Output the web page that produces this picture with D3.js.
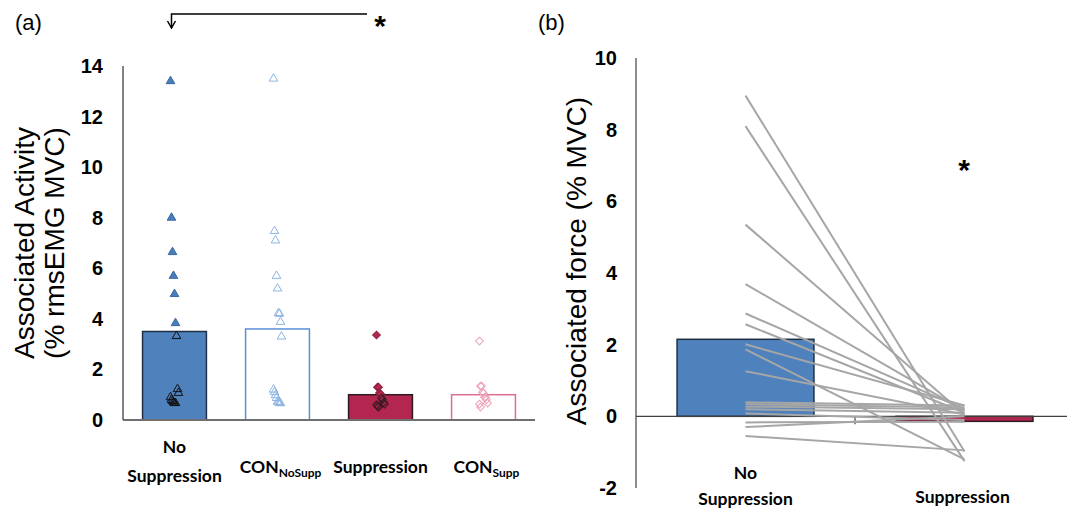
<!DOCTYPE html>
<html>
<head>
<meta charset="utf-8">
<script src="https://cdn.jsdelivr.net/npm/d3@7"></script>
<style>
  body { margin: 0; background: #fff; }
  svg { display: block; }
  .tick-label { font-family: "Liberation Sans", Arial, sans-serif; font-weight: bold; font-size: 20px; fill: #000; }
  .cat-label { font-family: Lato, "Open Sans", sans-serif; font-weight: bold; font-size: 17.5px; fill: #000; }
  .ytitle { font-family: "Liberation Sans", Arial, sans-serif; font-size: 28px; fill: #000; }
  .panel { font-family: "Liberation Sans", Arial, sans-serif; font-size: 22px; fill: #000; }
  .star { font-family: "Liberation Sans", Arial, sans-serif; font-weight: bold; font-size: 30px; fill: #000; }
</style>
</head>
<body>
<svg id="chart" width="1067" height="510"></svg>
<script>
'use strict';

// ---- panel (a) data ----
var catsA = ['nosupp', 'connosupp', 'supp', 'consupp'],
    barA = [3.5, 3.6, 1.0, 1.0],
    pointsNoSupp = [13.4, 8.0, 6.64, 5.7, 4.98, 3.83, 3.32, 1.22, 1.07, 0.9, 0.8, 0.75, 0.7, 0.67, 0.67],
    pointsConNoSupp = [13.5, 7.47, 7.1, 5.7, 5.2, 4.23, 4.2, 3.88, 3.3, 1.2, 1.1, 0.98, 0.87, 0.72, 0.7, 0.68, 0.66],
    pointsSupp = [3.36, 1.3, 1.3, 1.07, 1.03, 0.87, 0.8, 0.7, 0.63, 0.6, 0.55, 0.51],
    pointsConSupp = [3.12, 1.34, 1.34, 1.1, 1.06, 0.9, 0.9, 0.8, 0.67, 0.63, 0.51],
    ticksA = [0, 2, 4, 6, 8, 10, 12, 14];

// ---- panel (b) data ----
var catsB = ['No Suppression', 'Suppression'],
    barB = [2.15, -0.14],
    forceNoSupp = [8.95, 8.1, 5.35, 3.69, 2.87, 2.57, 2.01, 1.87, 1.26, 0.39, 0.34, 0.27, 0.2, 0.08, -0.17, -0.3, -0.55],
    forceSupp = [-0.98, -1.25, 0.05, 0.15, 0.2, 0.1, 0.3, -1.2, 0.05, 0.3, 0.25, 0.2, 0.1, -0.1, -0.15, 0.0, -0.95],
    ticksB = [-2, 0, 2, 4, 6, 8, 10];

var svg = d3.select('#chart');

// ================= panel (a) =================
var xA = d3.scaleBand().domain(catsA).range([123, 535]).paddingInner(0.38).paddingOuter(0.19),
    yA = d3.scaleLinear().domain([0, 14]).range([420, 66]);

var barStyleA = [
  { fill: '#4f81bd', stroke: '#1f2f45' },
  { fill: '#ffffff', stroke: '#5b8fd6' },
  { fill: '#b3264f', stroke: '#2b1a20' },
  { fill: '#ffffff', stroke: '#dc6f8f' }
];

var gA = svg.append('g');

gA.selectAll('rect.bar').data(barA).enter().append('rect')
  .attr('class', 'bar')
  .attr('x', function (d, i) { return xA(catsA[i]); })
  .attr('width', xA.bandwidth())
  .attr('y', function (d) { return yA(d); })
  .attr('height', function (d) { return yA(0) - yA(d); })
  .style('fill', function (d, i) { return barStyleA[i].fill; })
  .style('stroke', function (d, i) { return barStyleA[i].stroke; })
  .style('stroke-width', 1.5);

// axis lines
gA.append('line').attr('x1', 123).attr('x2', 535).attr('y1', yA(0)).attr('y2', yA(0))
  .style('stroke', '#6f6f6f').style('stroke-width', 2);
gA.append('line').attr('x1', 123).attr('x2', 123).attr('y1', yA(14)).attr('y2', yA(0))
  .style('stroke', '#595959').style('stroke-width', 1.5);

gA.selectAll('text.ta').data(ticksA).enter().append('text')
  .attr('class', 'tick-label ta')
  .attr('x', 103).attr('y', function (d) { return yA(d); })
  .attr('dy', '0.35em').attr('text-anchor', 'end')
  .text(function (d) { return d; });

function jitter(i) { return ((i * 37) % 9) - 4; }

var tri = d3.symbol().type(d3.symbolTriangle).size(32),
    dia = d3.symbol().type(d3.symbolSquare).size(30);

function drawPoints(values, cat, shape, rot, style) {
  var cx = xA(cat) + xA.bandwidth() / 2;
  gA.append('g').selectAll('path').data(values).enter().append('path')
    .attr('d', shape)
    .attr('transform', function (d, i) {
      return 'translate(' + (cx + jitter(i)) + ',' + yA(d) + ') rotate(' + rot + ')';
    })
    .style('fill', function (d) { return style(d).fill; })
    .style('stroke', function (d) { return style(d).stroke; })
    .style('stroke-width', 1);
}

drawPoints(pointsNoSupp, 'nosupp', tri, 0, function (d) {
  return d > barA[0] ? { fill: '#4a7ebb', stroke: '#3a67a0' } : { fill: 'none', stroke: '#111' };
});
drawPoints(pointsConNoSupp, 'connosupp', tri, 0, function () {
  return { fill: 'none', stroke: '#8db4e2' };
});
drawPoints(pointsSupp, 'supp', dia, 45, function (d) {
  return d > barA[2] ? { fill: '#b3264f', stroke: '#8e1e3e' } : { fill: 'none', stroke: '#3a1a24' };
});
drawPoints(pointsConSupp, 'consupp', dia, 45, function () {
  return { fill: 'none', stroke: '#efa3b9' };
});

// category labels
function catLabel(g, x, y, main, sub) {
  var t = g.append('text').attr('class', 'cat-label').attr('x', x).attr('y', y).attr('text-anchor', 'middle');
  t.append('tspan').text(main);
  if (sub) {
    t.append('tspan').attr('dy', 4).style('font-size', '12px').text(sub);
  }
}
var cA = function (c) { return xA(c) + xA.bandwidth() / 2; };
catLabel(gA, cA('nosupp'), 453, 'No');
catLabel(gA, cA('nosupp'), 482, 'Suppression');
catLabel(gA, cA('connosupp') + 3, 473, 'CON', 'NoSupp');
catLabel(gA, cA('supp'), 473, 'Suppression');
catLabel(gA, cA('consupp') + 3, 473, 'CON', 'Supp');

// y title (a)
var tA = gA.append('text').attr('class', 'ytitle')
  .attr('transform', 'translate(34,243) rotate(-90)').attr('text-anchor', 'middle');
tA.append('tspan').attr('x', 0).attr('dy', 0).text('Associated Activity');
tA.append('tspan').attr('x', 0).attr('dy', 30).text('(% rmsEMG MVC)');

gA.append('text').attr('class', 'panel').attr('x', 15).attr('y', 30).text('(a)');

// significance bracket
var bx = cA('nosupp') - 3;
gA.append('path')
  .attr('d', 'M' + 367 + ',14 H' + bx + ' V28')
  .style('fill', 'none').style('stroke', '#000').style('stroke-width', 1.5);
gA.append('path')
  .attr('d', 'M' + (bx - 4) + ',21 L' + bx + ',28 L' + (bx + 4) + ',21')
  .style('fill', 'none').style('stroke', '#000').style('stroke-width', 1.5);
gA.append('text').attr('class', 'star').attr('x', 380).attr('y', 36).attr('text-anchor', 'middle').text('*');

// ================= panel (b) =================
var xB = d3.scaleBand().domain(catsB).range([636, 1074]).paddingInner(0.375).paddingOuter(0.1875),
    yB = d3.scaleLinear().domain([-2, 10]).range([488, 58]);

var gB = svg.append('g');

var barStyleB = [
  { fill: '#4f81bd', stroke: '#1f2f45' },
  { fill: '#b3264f', stroke: '#2b1a20' }
];

gB.selectAll('rect').data(barB).enter().append('rect')
  .attr('x', function (d, i) { return xB(catsB[i]); })
  .attr('width', xB.bandwidth())
  .attr('y', function (d) { return yB(Math.max(0, d)); })
  .attr('height', function (d) { return Math.abs(yB(d) - yB(0)); })
  .style('fill', function (d, i) { return barStyleB[i].fill; })
  .style('stroke', function (d, i) { return barStyleB[i].stroke; })
  .style('stroke-width', 1.5);

gB.append('line').attr('x1', 636).attr('x2', 1074).attr('y1', yB(0)).attr('y2', yB(0))
  .style('stroke', '#404040').style('stroke-width', 1.2);
gB.append('line').attr('x1', 636).attr('x2', 636).attr('y1', yB(10)).attr('y2', yB(-2))
  .style('stroke', '#404040').style('stroke-width', 1.2);
// tick between the two categories
gB.append('line')
  .attr('x1', 636 + xB.step()).attr('x2', 636 + xB.step())
  .attr('y1', yB(0)).attr('y2', yB(0) + 8)
  .style('stroke', '#404040').style('stroke-width', 1.2);

gB.selectAll('text.tb').data(ticksB).enter().append('text')
  .attr('class', 'tick-label tb')
  .attr('x', 617).attr('y', function (d) { return yB(d); })
  .attr('dy', '0.35em').attr('text-anchor', 'end')
  .text(function (d) { return d; });

// paired lines
var cB = function (c) { return xB(c) + xB.bandwidth() / 2; };
gB.append('g').selectAll('line').data(d3.range(forceNoSupp.length)).enter().append('line')
  .attr('x1', cB(catsB[0])).attr('x2', cB(catsB[1]))
  .attr('y1', function (i) { return yB(forceNoSupp[i]); })
  .attr('y2', function (i) { return yB(forceSupp[i]); })
  .style('stroke', '#a6a6a6').style('stroke-width', 2);

catLabel(gB, cB(catsB[0]), 479, 'No');
catLabel(gB, cB(catsB[0]), 505, 'Suppression');
catLabel(gB, cB(catsB[1]) - 2, 503, 'Suppression');

gB.append('text').attr('class', 'ytitle')
  .attr('transform', 'translate(586,261) rotate(-90)').attr('text-anchor', 'middle')
  .text('Associated force (% MVC)');

gB.append('text').attr('class', 'panel').attr('x', 538).attr('y', 30).text('(b)');
gB.append('text').attr('class', 'star').attr('x', 964).attr('y', 180).attr('text-anchor', 'middle').text('*');
</script>
</body>
</html>
